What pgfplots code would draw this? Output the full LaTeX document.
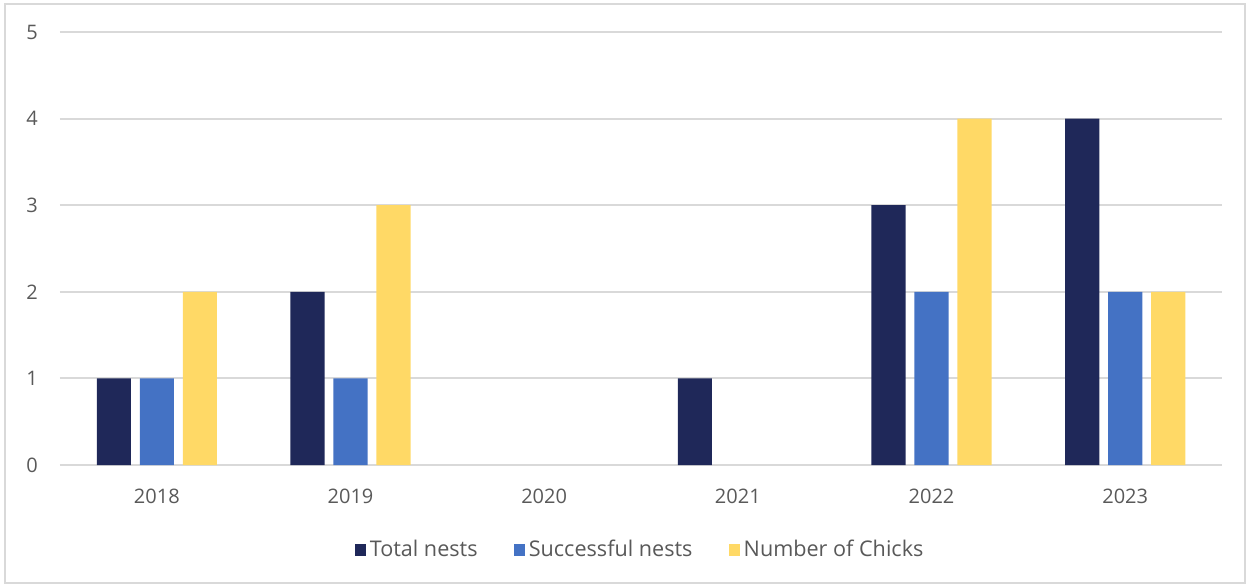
\documentclass[border=0pt]{standalone}
\usepackage{fontspec}
\setmainfont{Open Sans}
\usepackage{pgfplots}
\pgfplotsset{compat=1.18}
\definecolor{navy}{HTML}{1F2859}
\definecolor{mblue}{HTML}{4472C4}
\definecolor{myellow}{HTML}{FFD966}
\definecolor{gridg}{HTML}{D9D9D9}
\definecolor{txtg}{HTML}{595959}
\begin{document}
\begin{tikzpicture}
\begin{axis}[
  width=581pt, height=216.5pt, scale only axis,
  xmin=-0.5, xmax=5.5, ymin=0, ymax=5,
  xtick={0,1,2,3,4,5},
  xticklabels={2018,2019,2020,2021,2022,2023},
  ytick={0,1,2,3,4,5},
  ymajorgrids, grid style={gridg, line width=1pt},
  axis line style={draw=none},
  major tick length=0pt,
  tick label style={font=\fontsize{10}{12}\selectfont, text=txtg},
  /pgf/number format/assume math mode=true,
  xticklabel style={yshift=-8.5pt},
  yticklabel style={xshift=-7.5pt},
  bar width=0.176,
  y filter/.expression={y==0 ? nan : y},
  unbounded coords=discard,
  legend style={at={(0.5,-0.196)}, anchor=center, draw=none, legend columns=3,
    font=\fontsize{10.8}{13}\selectfont, text=txtg,
    /tikz/every even column/.append style={column sep=16pt}},
  legend image code/.code={\fill[#1] (-1.5pt,-2.8pt) rectangle (4.1pt,2.8pt);},
  clip=false,
]
\addplot[ybar, fill=navy, draw=none, bar shift=-0.222] coordinates {(0,1) (1,2) (2,0) (3,1) (4,3) (5,4)};
\addlegendentry{Total nests}
\addplot[ybar, fill=mblue, draw=none, bar shift=0] coordinates {(0,1) (1,1) (2,0) (3,0) (4,2) (5,2)};
\addlegendentry{Successful nests}
\addplot[ybar, fill=myellow, draw=none, bar shift=0.222] coordinates {(0,2) (1,3) (2,0) (3,0) (4,4) (5,2)};
\addlegendentry{Number of Chicks}
\draw[gridg, line width=1pt] (rel axis cs:-0.0473,1.0647) rectangle (rel axis cs:1.0198,-0.2725);
\path (rel axis cs:-0.0516,1.0739) rectangle (rel axis cs:1.0232,-0.2818);
\end{axis}
\end{tikzpicture}
\end{document}
